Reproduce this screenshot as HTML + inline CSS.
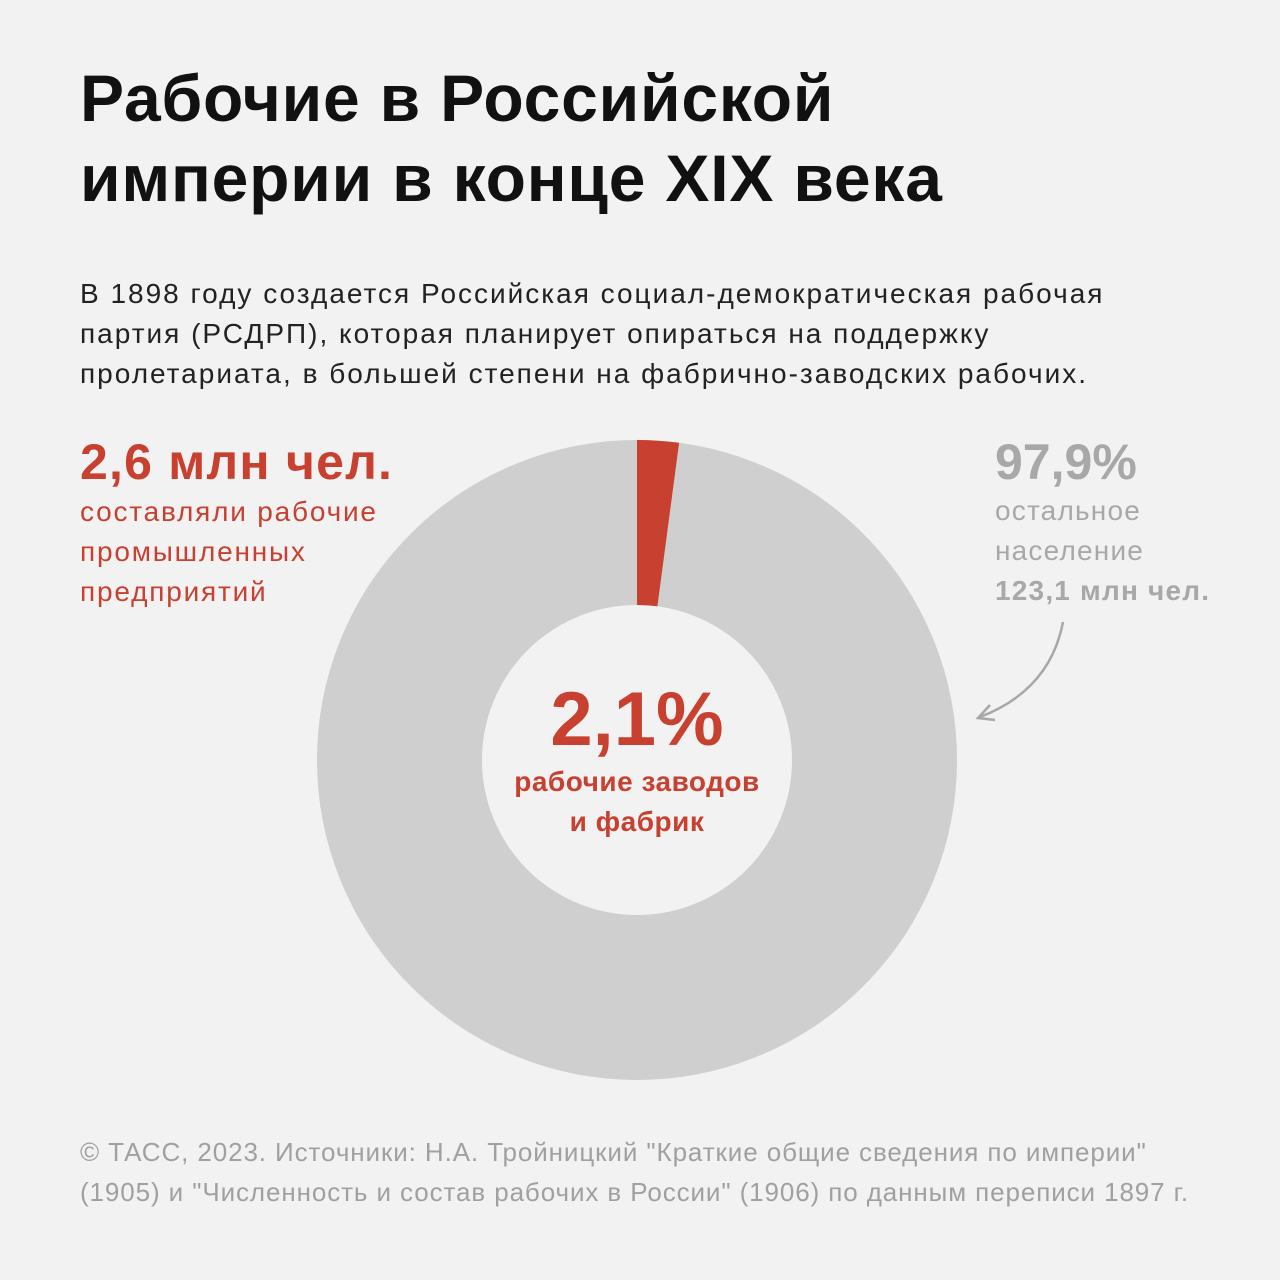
<!DOCTYPE html>
<html><head><meta charset="utf-8"><style>
html,body{margin:0;padding:0}
body{width:1280px;height:1280px;background:#f2f2f2;position:relative;overflow:hidden;font-family:"Liberation Sans","DejaVu Sans",sans-serif}
.t{position:absolute;white-space:nowrap}
h1{position:absolute;left:80px;top:58px;margin:0;font-size:66px;line-height:80px;font-weight:bold;color:#111;letter-spacing:0.8px}
</style></head><body>
<h1>Рабочие в Российской<br>империи в конце XIX века</h1>
<div class="t" style="left:80px;top:274px;font-size:28px;line-height:40px;color:#222;letter-spacing:2px">В 1898 году создается Российская социал-демократическая рабочая<br>партия (РСДРП), которая планирует опираться на поддержку<br>пролетариата, в большей степени на фабрично-заводских рабочих.</div>
<svg style="position:absolute;left:0;top:0" width="1280" height="1280">
<circle cx="637" cy="760" r="237.5" fill="none" stroke="#cfcfcf" stroke-width="165"/>
<path d="M637 440 A320 320 0 0 1 679.1 442.8 L657.4 606.3 A155 155 0 0 0 637 605 Z" fill="#c8402f"/>
<path d="M1063 622 Q1050 690 980 717" fill="none" stroke="#a8a8a8" stroke-width="2.5"/>
<path d="M990 705 L978 718 L995 720" fill="none" stroke="#a8a8a8" stroke-width="2.5"/>
</svg>
<div class="t" style="left:80px;top:432px;font-size:50px;line-height:60px;font-weight:bold;color:#c8402f;letter-spacing:1.2px">2,6 млн чел.</div>
<div class="t" style="left:80px;top:492px;font-size:28px;line-height:40px;color:#c8402f;letter-spacing:1.8px">составляли рабочие<br>промышленных<br>предприятий</div>
<div class="t" style="left:995px;top:432px;font-size:50px;line-height:60px;font-weight:bold;color:#a8a8a8">97,9%</div>
<div class="t" style="left:995px;top:491px;font-size:28px;line-height:40px;color:#a8a8a8;letter-spacing:1.2px">остальное<br>население<br><b>123,1 млн чел.</b></div>
<div class="t" style="left:437px;width:400px;text-align:center;top:678px;font-size:76px;line-height:84px;font-weight:bold;color:#c8402f">2,1%</div>
<div class="t" style="left:437px;width:400px;text-align:center;top:762px;font-size:28px;line-height:40px;font-weight:bold;color:#c8402f;letter-spacing:0.5px">рабочие заводов<br>и фабрик</div>
<div class="t" style="left:80px;top:1132px;font-size:26px;line-height:40px;color:#a0a0a0;letter-spacing:0.9px">© ТАСС, 2023. Источники: Н.А. Тройницкий "Краткие общие сведения по империи"<br>(1905) и "Численность и состав рабочих в России" (1906) по данным переписи 1897 г.</div>
</body></html>
